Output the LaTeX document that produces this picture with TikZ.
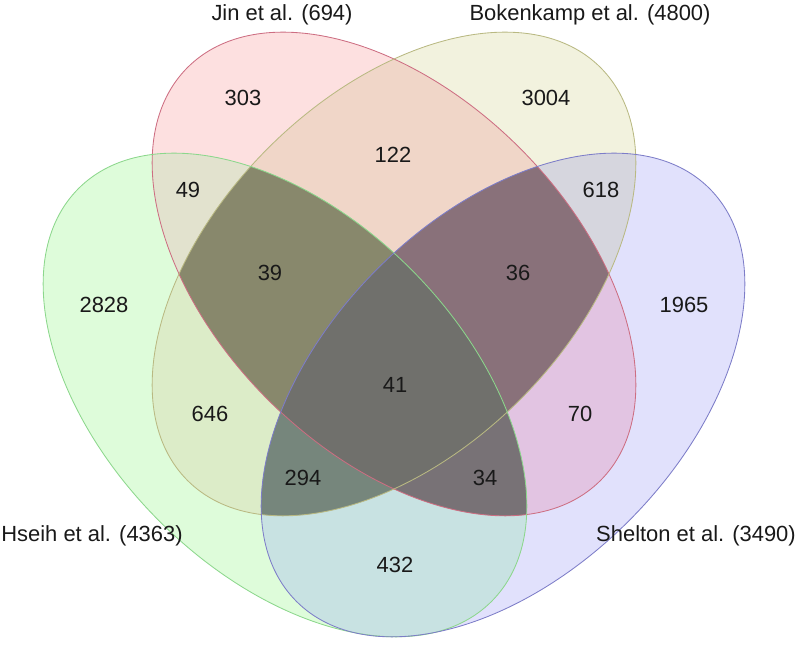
\documentclass[tikz,border=0pt]{standalone}
\usepackage{fontspec}
\setmainfont{Liberation Sans}

% the four sets, as paths
\def\jinset{(9.85,9.3) ellipse [x radius=7.3cm, y radius=4.45cm, rotate=-45]}
\def\bokset{(9.85,9.3) ellipse [x radius=7.3cm, y radius=4.45cm, rotate=45]}
\def\hseihset{(7.125,6.275) ellipse [x radius=7.3cm, y radius=4.45cm, rotate=-45]}
\def\sheltonset{(12.575,6.275) ellipse [x radius=7.3cm, y radius=4.45cm, rotate=45]}

% single sets
\definecolor{jinfill}{RGB}{253,224,224}
\definecolor{bokfill}{RGB}{242,242,222}
\definecolor{hseihfill}{RGB}{222,252,218}
\definecolor{sheltonfill}{RGB}{225,225,252}
% two sets
\definecolor{jinbok}{RGB}{240,214,200}
\definecolor{jinhseih}{RGB}{226,226,206}
\definecolor{jinshelton}{RGB}{226,196,226}
\definecolor{bokhseih}{RGB}{220,236,200}
\definecolor{bokshelton}{RGB}{214,214,222}
\definecolor{hseihshelton}{RGB}{200,226,226}
% three and four sets
\definecolor{nohelton}{RGB}{136,136,108}
\definecolor{nohseih}{RGB}{137,113,122}
\definecolor{nojin}{RGB}{118,134,124}
\definecolor{nobok}{RGB}{120,114,118}
\definecolor{allsets}{RGB}{112,112,108}
% outlines
\definecolor{jinline}{RGB}{205,110,130}
\definecolor{bokline}{RGB}{185,185,130}
\definecolor{hseihline}{RGB}{140,215,140}
\definecolor{sheltonline}{RGB}{125,125,200}

\tikzset {
  set line/.style = {
    line width = 0.6pt
  },
  % name of a study
  set label/.style = {
    inner sep = 0,
    text = black!90,
    font = \fontsize{15.6}{18}\selectfont
  },
  % number of genes in a region
  count/.style = {
    set label
  }
}

\begin{document}
\begin{tikzpicture}
  \useasboundingbox (0,0) rectangle (20,16.15);

  \fill[jinfill] \jinset;
  \fill[bokfill] \bokset;
  \fill[hseihfill] \hseihset;
  \fill[sheltonfill] \sheltonset;

  % overlaps of two
  \begin{scope} \clip \jinset; \fill[jinbok] \bokset; \end{scope}
  \begin{scope} \clip \jinset; \fill[jinhseih] \hseihset; \end{scope}
  \begin{scope} \clip \jinset; \fill[jinshelton] \sheltonset; \end{scope}
  \begin{scope} \clip \bokset; \fill[bokhseih] \hseihset; \end{scope}
  \begin{scope} \clip \bokset; \fill[bokshelton] \sheltonset; \end{scope}
  \begin{scope} \clip \hseihset; \fill[hseihshelton] \sheltonset; \end{scope}

  % overlaps of three, then all four
  \begin{scope} \clip \jinset; \clip \bokset; \fill[nohelton] \hseihset; \end{scope}
  \begin{scope} \clip \jinset; \clip \bokset; \fill[nohseih] \sheltonset; \end{scope}
  \begin{scope} \clip \bokset; \clip \hseihset; \fill[nojin] \sheltonset; \end{scope}
  \begin{scope} \clip \jinset; \clip \hseihset; \fill[nobok] \sheltonset; \end{scope}
  \begin{scope} \clip \jinset; \clip \bokset; \clip \hseihset; \fill[allsets] \sheltonset; \end{scope}

  \draw[set line, jinline] \jinset;
  \draw[set line, bokline] \bokset;
  \draw[set line, hseihline] \hseihset;
  \draw[set line, sheltonline] \sheltonset;

  \node[set label] (jin) at (7.05,15.775) {Jin et al. (694)};
  \node[set label] (bok) at (14.75,15.775) {Bokenkamp et al. (4800)};
  \node[set label] (hseih) at (2.3,2.75) {Hseih et al. (4363)};
  \node[set label] (shelton) at (17.4,2.75) {Shelton et al. (3490)};

  \node[count] (jin-only) at (6.075,13.7) {303};
  \node[count] (bok-only) at (13.65,13.7) {3004};
  \node[count] (hseih-only) at (2.6,8.525) {2828};
  \node[count] (shelton-only) at (17.1,8.525) {1965};
  \node[count] (jin-bok) at (9.825,12.275) {122};
  \node[count] (jin-hseih) at (4.7,11.4) {49};
  \node[count] (bok-shelton) at (15.025,11.4) {618};
  \node[count] (bok-hseih) at (5.25,5.8) {646};
  \node[count] (jin-shelton) at (14.5,5.8) {70};
  \node[count] (hseih-shelton) at (9.875,2.025) {432};
  \node[count] (jin-bok-hseih) at (6.75,9.325) {39};
  \node[count] (jin-bok-shelton) at (12.95,9.325) {36};
  \node[count] (bok-hseih-shelton) at (7.575,4.2) {294};
  \node[count] (jin-hseih-shelton) at (12.125,4.2) {34};
  \node[count] (all) at (9.875,6.525) {41};
\end{tikzpicture}
\end{document}
